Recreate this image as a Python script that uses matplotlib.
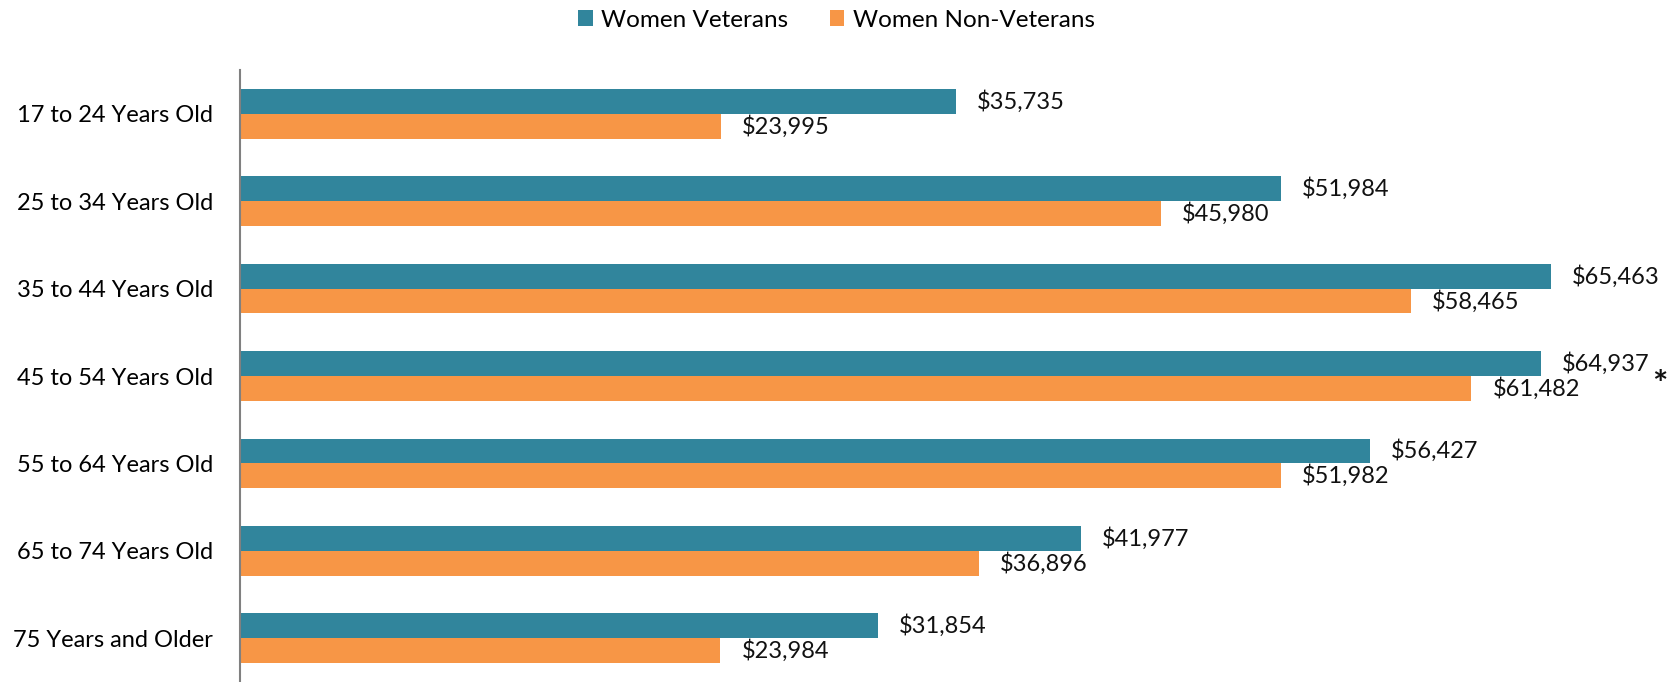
import numpy as np
import matplotlib.pyplot as plt

# median earnings by age group
categories = ["17 to 24 Years Old", "25 to 34 Years Old", "35 to 44 Years Old",
              "45 to 54 Years Old", "55 to 64 Years Old", "65 to 74 Years Old",
              "75 Years and Older"]
veterans = [35735, 51984, 65463, 64937, 56427, 41977, 31854]
non_veterans = [23995, 45980, 58465, 61482, 51982, 36896, 23984]
flagged = [False, False, False, True, False, False, False]

TEAL = "#31859C"
ORANGE = "#F79646"

plt.rcParams['font.family'] = ['Lato', 'DejaVu Sans']

fig = plt.figure(figsize=(16.8, 6.82), dpi=100)
W, H = 1680, 682
left, right, top, bottom = 240, 1660, 70, 682
ax = fig.add_axes([left / W, 1 - bottom / H, (right - left) / W, (bottom - top) / H])

y = np.arange(len(categories))
h = 0.285
b1 = ax.barh(y - h / 2, veterans, height=h, color=TEAL, label="Women Veterans")
b2 = ax.barh(y + h / 2, non_veterans, height=h, color=ORANGE, label="Women Non-Veterans")

for bars, vals in ((b1, veterans), (b2, non_veterans)):
    for rect, v in zip(bars, vals):
        ax.annotate(f"${v:,}", xy=(v, rect.get_y() + rect.get_height() / 2),
                    xytext=(21, 0), textcoords="offset pixels",
                    ha="left", va="center", fontsize=17, color="#111111")

for i, f in enumerate(flagged):
    if f:
        ax.annotate("*", xy=(veterans[i], i), xytext=(119, -9),
                    textcoords="offset pixels", ha="center", va="center",
                    fontsize=26, fontweight="bold", color="#111111")

ax.set_xlim(0, (right - left) / 0.02003)
ax.set_ylim(6.5, -0.5)
ax.set_yticks(y)
ax.set_yticklabels(categories, fontsize=17)
ax.tick_params(axis="y", length=0, pad=19.5)
ax.set_xticks([])
for s in ("top", "right", "bottom"):
    ax.spines[s].set_visible(False)
ax.spines["left"].set_color("#808080")
ax.spines["left"].set_linewidth(1.5)

fig.legend(loc="upper center", bbox_to_anchor=(0.498, 1.018), ncol=2, frameon=False,
           fontsize=17.5, handlelength=0.6, handleheight=0.6, handletextpad=0.35,
           columnspacing=1.7)

fig.savefig("out.png", dpi=100)
